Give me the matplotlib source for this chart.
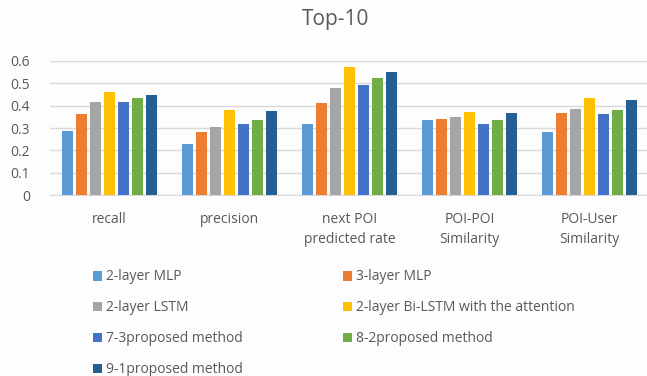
import numpy as np
import matplotlib

matplotlib.use("Agg")
import matplotlib.pyplot as plt

plt.rcParams["font.family"] = ["Open Sans", "DejaVu Sans"]

categories = ["recall", "precision", "next POI\npredicted rate", "POI-POI\nSimilarity", "POI-User\nSimilarity"]
series_names = [
    "2-layer MLP",
    "3-layer MLP",
    "2-layer LSTM",
    "2-layer Bi-LSTM with the attention",
    "7-3proposed method",
    "8-2proposed method",
    "9-1proposed method",
]
mlp2 = [0.287, 0.230, 0.316, 0.336, 0.281]
mlp3 = [0.361, 0.281, 0.410, 0.342, 0.367]
lstm2 = [0.417, 0.304, 0.478, 0.348, 0.386]
bilstm_att = [0.459, 0.379, 0.572, 0.373, 0.435]
prop_73 = [0.416, 0.316, 0.492, 0.316, 0.361]
prop_82 = [0.435, 0.336, 0.521, 0.336, 0.379]
prop_91 = [0.449, 0.374, 0.548, 0.367, 0.424]
series = [mlp2, mlp3, lstm2, bilstm_att, prop_73, prop_82, prop_91]
colors = ["#5B9BD5", "#ED7D31", "#A5A5A5", "#FFC000", "#4472C4", "#70AD47", "#255E91"]

text_color = "#595959"
W, H = 647, 376
fig = plt.figure(figsize=(W / 100, H / 100), dpi=100)
fig.patch.set_facecolor("#FDFDFD")

# axes in pixel coords: x 49.5..649.5, y 60.7..195.3 (from top)
ax = fig.add_axes([49.5 / W, 1 - 195.3 / H, 600 / W, (195.3 - 60.7) / H])
ax.set_facecolor("#FDFDFD")

x = np.arange(len(categories))
step = 14 / 120
width = 11 / 120
handles = []
for i, (vals, c) in enumerate(zip(series, colors)):
    b = ax.bar(x + (i - 3) * step, vals, width=width, color=c, label=series_names[i], zorder=3)
    handles.append(b)

ax.set_xlim(-0.5, len(categories) - 0.5)
ax.set_ylim(0, 0.6)
ax.set_yticks(np.arange(0, 0.61, 0.1))
ax.set_yticklabels(["0", "0.1", "0.2", "0.3", "0.4", "0.5", "0.6"])
ax.set_xticks(x)
ax.set_xticklabels(categories, linespacing=1.5)
ax.yaxis.grid(True, color="#D9D9D9", linewidth=1, zorder=0)
for s in ["top", "right", "left"]:
    ax.spines[s].set_visible(False)
ax.spines["bottom"].set_color("#D9D9D9")
ax.tick_params(axis="both", length=0, colors=text_color, labelsize=10)
ax.tick_params(axis="x", pad=12)
ax.tick_params(axis="y", pad=14)

fig.text(336 / W, 1 - 20 / H, "Top-10", ha="center", va="center", fontsize=15, color=text_color)

order = [0, 2, 4, 6, 1, 3, 5]
leg = fig.legend(
    [handles[i] for i in order],
    [series_names[i] for i in order],
    ncol=2,
    loc="upper left",
    bbox_to_anchor=(80 / W, 1 - 257 / H),
    frameon=False,
    fontsize=10,
    handlelength=0.7,
    handleheight=0.7,
    handletextpad=0.3,
    labelspacing=1.15,
    columnspacing=7.15,
)
for t in leg.get_texts():
    t.set_color(text_color)

fig.savefig("out.png", dpi=100, facecolor=fig.get_facecolor())
